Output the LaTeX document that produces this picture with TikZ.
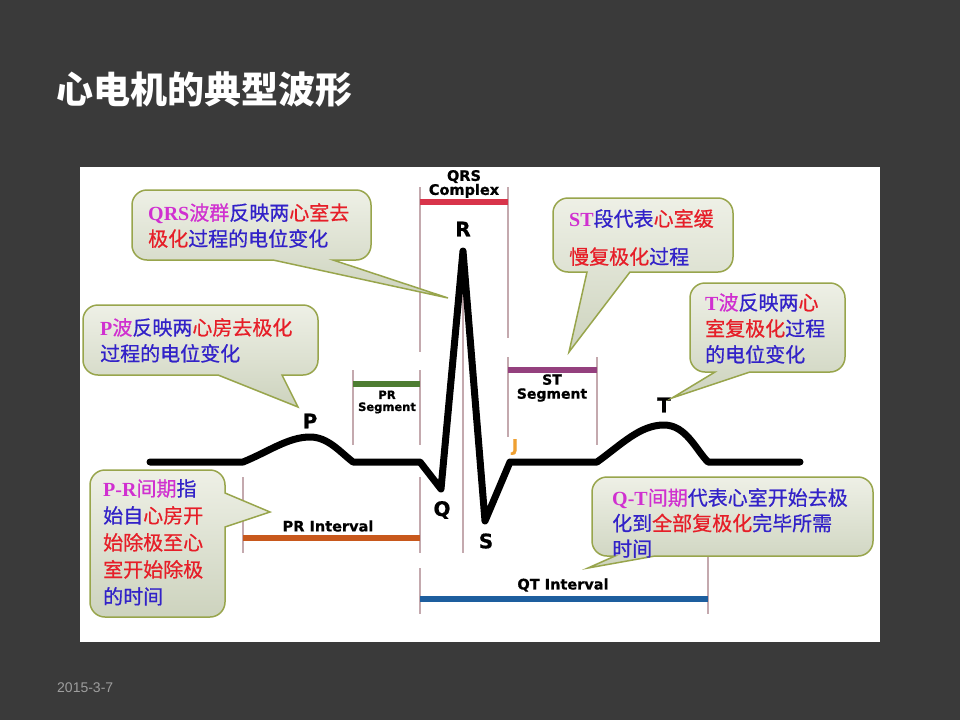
\documentclass[tikz,border=0pt]{standalone}
\usepackage{fontspec}
\newfontfamily\cjk{Noto Sans CJK SC}
\newfontfamily\cjknote{Noto Sans CJK SC}[FakeBold=0.7]
\newfontfamily\wavefont{DejaVu Sans}[BoldFeatures={FakeBold=0.8}]
\newfontfamily\latfont{Liberation Serif}
\newfontfamily\datefont{Liberation Sans}
\definecolor{slidebg}{HTML}{3A3A3A}
\definecolor{bubtop}{HTML}{EEF0E6}
\definecolor{bubbot}{HTML}{CDD3BE}
\definecolor{bubline}{HTML}{98A54C}
\definecolor{txtmag}{HTML}{D030D0}
\definecolor{txtblue}{HTML}{3222C8}
\definecolor{txtred}{HTML}{E61E28}
\definecolor{guidegray}{HTML}{C4A9AE}
\definecolor{qrsred}{HTML}{D8344A}
\definecolor{prgreen}{HTML}{4E7D32}
\definecolor{stpurple}{HTML}{94407E}
\definecolor{intorange}{HTML}{C8581C}
\definecolor{qtblue}{HTML}{1D5E9E}
\definecolor{jorange}{HTML}{EFA032}
\newcommand{\magtxt}[1]{\textcolor{txtmag}{#1}}
\newcommand{\redtxt}[1]{\textcolor{txtred}{#1}}
% box x1 y1 x2 y2, pointer base b1 b2 on the bottom edge, tip x y
\newcommand{\balloon}[8]{%
  \draw[balloon] ({#1+15},#2) -- ({#3-15},#2) arc[start angle=270,end angle=360,radius=15]
    -- (#3,{#4-15}) arc[start angle=0,end angle=90,radius=15]
    -- (#6,#4) -- (#7,#8) -- (#5,#4)
    -- ({#1+15},#4) arc[start angle=90,end angle=180,radius=15]
    -- (#1,{#2+15}) arc[start angle=180,end angle=270,radius=15] -- cycle;}

\begin{document}
\begin{tikzpicture}[
          x=1pt,y=-1pt,
          balloon/.style={draw=bubline,line width=1.5pt,top color=bubtop,bottom color=bubbot},
          note/.style={font=\cjknote\fontsize{20}{26}\selectfont,text=txtblue,align=left,anchor=north west,inner sep=0pt},
          wave/.style={font=\wavefont\bfseries\fontsize{20}{22}\selectfont,inner sep=0pt},
          tag/.style={font=\wavefont\bfseries\fontsize{14.5}{14}\selectfont,align=center,inner sep=0pt},
          guide/.style={draw=guidegray,line width=2pt},
          bar/.style={line width=5.5pt}
        ]
        \useasboundingbox (0,0) rectangle (960,720);
        \fill[slidebg] (0,0) rectangle (960,720);
        \fill[white] (80,167) rectangle (880,642);
        \node[font=\cjk\bfseries\fontsize{37}{40}\selectfont,text=white,anchor=west,inner sep=0pt] (title) at (56,90) {心电机的典型波形};
        \node[font=\datefont\fontsize{14}{16}\selectfont,text=black!38,anchor=west,inner sep=0pt] (date) at (57,688) {2015-3-7};

        \foreach \gx/\ga/\gb in {420/187/352,508/187/338,463/262/553,353/370/445,420/370/445,
            508/357/437,597/357/445,243/477/553,420/477/553,420/568/614,708/557/614}
          \draw[guide] (\gx,\ga) -- (\gx,\gb);
        \draw[bar,qrsred] (420,202) -- (508,202);
        \draw[bar,prgreen] (353,384) -- (420,384);
        \draw[bar,stpurple] (508,370) -- (597,370);
        \draw[bar,intorange] (243,538) -- (420,538);
        \draw[bar,qtblue] (420,599) -- (708,599);

        \draw[line width=7pt,line join=round,line cap=round] (150,462) -- (243,462)
          .. controls (268,452) and (288,437) .. (310,437) .. controls (328,437) and (340,452) .. (353,462)
          -- (420,462) -- (441,489) -- (463,251) -- (485,521) -- (510,462) -- (597,462)
          .. controls (622,444) and (640,425) .. (664,425) .. controls (686,425) and (696,450) .. (708,462)
          -- (800,462);

        \node[wave] (lp) at (310,421) {P};
        \node[wave] (lr) at (463,229) {R};
        \node[wave] (lq) at (442,510) {Q};
        \node[wave] (ls) at (486,541) {S};
        \node[wave] (lt) at (664,405) {T};
        \node[wave,text=jorange,font=\wavefont\bfseries\fontsize{17}{18}\selectfont] (lj) at (515,447) {J};
        \node[tag] (qrs) at (464,184) {QRS\\Complex};
        \node[tag,font=\wavefont\bfseries\fontsize{11.5}{12}\selectfont] (prseg) at (387,402) {PR\\Segment};
        \node[tag,font=\wavefont\bfseries\fontsize{14}{14}\selectfont] (stseg) at (552,388) {ST\\Segment};
        \node[tag] (print) at (328,526) {PR Interval};
        \node[tag] (qtint) at (563,585) {QT Interval};

        \balloon{132}{190}{371}{260}{273}{333}{448}{298}
        \balloon{83}{305}{318}{375}{218}{282}{298}{407}
        \balloon{553}{198}{733}{272}{587}{630}{569}{352}
        \balloon{690}{283}{845}{372}{715}{750}{672}{398}
        \balloon{592}{477}{873}{556}{615}{655}{588}{568}
        \draw[balloon] (105,470) -- (210,470) arc[start angle=270,end angle=360,radius=15]
          -- (225,493) -- (270,512) -- (225,527) -- (225,602) arc[start angle=0,end angle=90,radius=15]
          -- (105,617) arc[start angle=90,end angle=180,radius=15]
          -- (90,485) arc[start angle=180,end angle=270,radius=15] -- cycle;

        \node[note] (noteqrs) at (148,203) {\magtxt{{\latfont\bfseries QRS}波群}反映两\redtxt{心室去}\\\redtxt{极化}过程的电位变化};
        \node[note] (notep) at (100,318) {\magtxt{{\latfont\bfseries P}波}反映两\redtxt{心房去极化}\\过程的电位变化};
        \node[note,font=\cjknote\fontsize{20}{38}\selectfont] (notest) at (569,209) {\magtxt{{\latfont\bfseries ST}}段代表\redtxt{心室缓}\\\redtxt{慢复极化}过程};
        \node[note] (notet) at (705,293) {\magtxt{{\latfont\bfseries T}波}反映两\redtxt{心}\\\redtxt{室复极化}过程\\的电位变化};
        \node[note,font=\cjknote\fontsize{20}{27}\selectfont] (notepr) at (103,479) {\magtxt{{\latfont\bfseries P-R}间期}指\\始自\redtxt{心房开}\\\redtxt{始除极至心}\\\redtxt{室开始除极}\\的时间};
        \node[note,font=\cjknote\fontsize{20}{25.5}\selectfont] (noteqt) at (612,488) {\magtxt{{\latfont\bfseries Q-T}间期}代表心室开始去极\\化到\redtxt{全部复极化}完毕所需\\时间};
      \end{tikzpicture}
\end{document}
